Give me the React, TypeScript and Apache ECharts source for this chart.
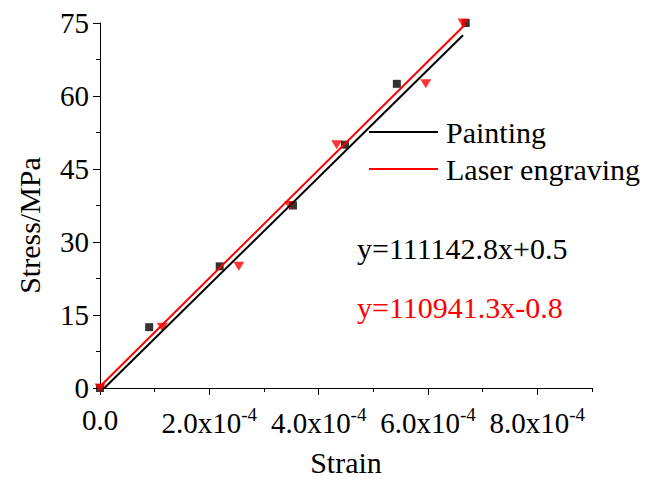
import { useEffect, useRef } from 'react';
import * as echarts from 'echarts';

// Measured points (strain, stress in MPa)
const paintingStrain = [0, 0.9e-4, 2.19e-4, 3.53e-4, 4.48e-4, 5.43e-4, 6.69e-4];
const paintingStress = [0, 12.5, 25, 37.5, 50, 62.5, 75];
const laserStrain = [0, 1.14e-4, 2.54e-4, 3.47e-4, 4.33e-4, 5.96e-4, 6.64e-4];
const laserStress = [0, 12.5, 25, 37.5, 50, 62.5, 75];

// Fitted lines (end points)
const paintingFitStrain = [0.08e-4, 6.64e-4];
const paintingFitStress = [0, 72.5];
const laserFitStrain = [0, 6.68e-4];
const laserFitStress = [0.3, 74.7];

// Axis ticks
const xMajorTicks = [0, 2e-4, 4e-4, 6e-4, 8e-4];
const xMinorTicks = [1e-4, 3e-4, 5e-4, 7e-4, 9e-4];
const yTicks = [0, 15, 30, 45, 60, 75];

const seriesNames = ['Painting', 'Laser engraving'];
const equations = ['y=111142.8x+0.5', 'y=110941.3x-0.8'];

const FONT = '"Liberation Serif", "Times New Roman", serif';
const BLACK = '#000000';
const RED = '#ff0000';

const zip = (a: number[], b: number[]) => a.map((v, i) => [v, b[i]]);

export default function App() {
  const ref = useRef<HTMLDivElement>(null);
  useEffect(() => {
    if (!ref.current) return;
    const chart = echarts.init(ref.current, null, { renderer: 'svg' });
    chart.setOption({
      animation: false,
      backgroundColor: '#ffffff',
      textStyle: { fontFamily: FONT },
      grid: { left: 100, top: 23, right: 69, bottom: 90, containLabel: false, outerBoundsMode: 'none' },
      legend: {
        data: seriesNames.map((n) => ({ name: n, icon: 'rect' })),
        orient: 'vertical',
        left: 369,
        top: 117,
        padding: 0,
        itemWidth: 69,
        itemHeight: 2,
        itemGap: 7,
        textStyle: { fontFamily: FONT, fontSize: 30, color: BLACK, lineHeight: 30, padding: [0, 0, 0, 3] },
      },
      xAxis: [
        {
          type: 'value',
          min: 0,
          max: 9e-4,
          position: 'bottom',
          name: 'Strain',
          nameLocation: 'middle',
          nameGap: 59,
          nameTextStyle: { fontFamily: FONT, fontSize: 30, color: BLACK },
          splitLine: { show: false },
          axisLine: { show: true, onZero: false, lineStyle: { color: BLACK, width: 1 } },
          axisTick: { show: true, length: 7, customValues: xMajorTicks, lineStyle: { color: BLACK } },
          axisLabel: {
            customValues: xMajorTicks,
            margin: 17,
            color: BLACK,
            formatter: (v: number) => (v === 0 ? '{b|0.0}' : `{b|${(v * 1e4).toFixed(1)}x10}{s|-4}`),
            rich: {
              b: { fontFamily: FONT, fontSize: 29, color: BLACK },
              s: { fontFamily: FONT, fontSize: 19, color: BLACK, padding: [0, 0, 16, 0] },
            },
          },
        },
        {
          type: 'value',
          min: 0,
          max: 9e-4,
          position: 'bottom',
          gridIndex: 0,
          splitLine: { show: false },
          axisLine: { show: false, onZero: false },
          axisTick: { show: true, length: 4, customValues: xMinorTicks, lineStyle: { color: BLACK } },
          axisLabel: { show: false },
        },
      ],
      yAxis: {
        type: 'value',
        min: 0,
        max: 75,
        interval: 15,
        name: 'Stress/MPa',
        nameLocation: 'middle',
        nameGap: 56,
        nameTextStyle: { fontFamily: FONT, fontSize: 30, color: BLACK, padding: [0, 40, 0, 0] },
        splitLine: { show: false },
        axisLine: { show: true, onZero: false, lineStyle: { color: BLACK, width: 1 } },
        axisTick: { show: true, length: 7, customValues: yTicks, lineStyle: { color: BLACK } },
        minorTick: { show: true, splitNumber: 2, length: 4, lineStyle: { color: BLACK } },
        axisLabel: { customValues: yTicks, fontFamily: FONT, fontSize: 29, color: BLACK, margin: 11 },
      },
      graphic: [
        {
          type: 'text',
          left: 357,
          top: 233,
          style: { text: equations[0], fontFamily: FONT, fontSize: 30, fill: BLACK },
        },
        {
          type: 'text',
          left: 357,
          top: 292,
          style: { text: equations[1], fontFamily: FONT, fontSize: 30, fill: RED },
        },
      ],
      series: [
        {
          name: 'Painting data',
          type: 'scatter',
          data: zip(paintingStrain, paintingStress),
          symbol: 'rect',
          symbolSize: 8,
          itemStyle: { color: BLACK },
          z: 3,
        },
        {
          name: 'Laser engraving data',
          type: 'scatter',
          data: zip(laserStrain, laserStress),
          symbol: 'triangle',
          symbolRotate: 180,
          symbolSize: [11, 9],
          itemStyle: { color: RED },
          z: 3,
        },
        {
          name: seriesNames[0],
          type: 'line',
          data: zip(paintingFitStrain, paintingFitStress),
          symbol: 'none',
          lineStyle: { color: BLACK, width: 2 },
          itemStyle: { color: BLACK },
          z: 4,
        },
        {
          name: seriesNames[1],
          type: 'line',
          data: zip(laserFitStrain, laserFitStress),
          symbol: 'none',
          lineStyle: { color: RED, width: 2 },
          itemStyle: { color: RED },
          z: 4,
        },
      ],
    });
    return () => chart.dispose();
  }, []);
  return <div ref={ref} style={{ width: 661, height: 478, position: 'absolute', left: 0, top: 0 }} />;
}
